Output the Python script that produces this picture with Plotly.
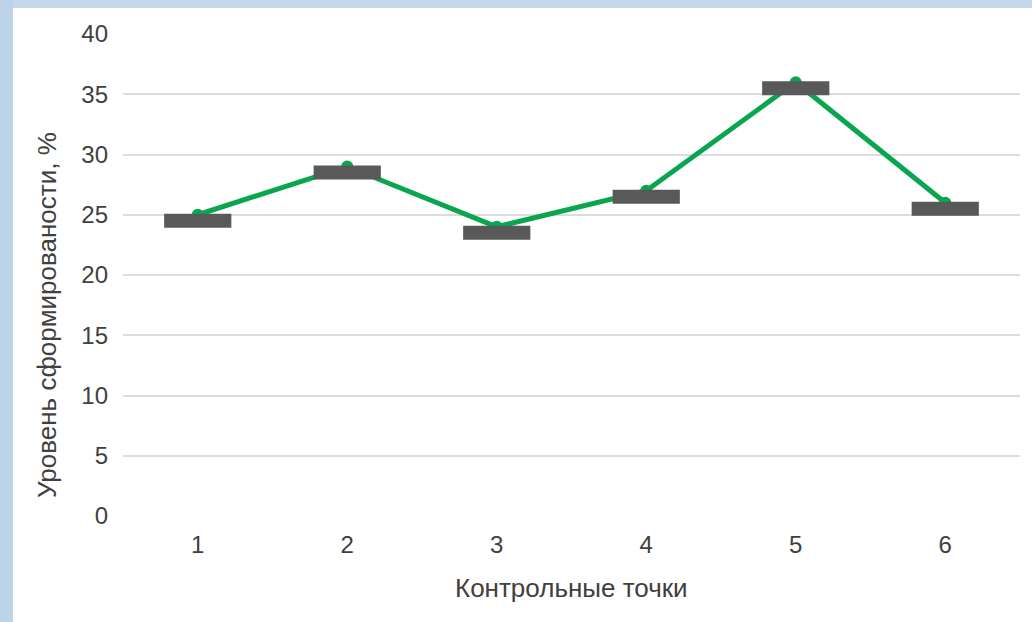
import plotly.graph_objects as go

categories = ["1", "2", "3", "4", "5", "6"]
level_values = [25, 29, 24, 27, 36, 26]
bar_values = [24.5, 28.5, 23.5, 26.5, 35.5, 25.5]
y_ticks = [0, 5, 10, 15, 20, 25, 30, 35, 40]

W, H = 1032, 622
L, R, T, B = 123, 12, 34, 106
pw, ph = W - L - R, H - T - B

def px_x(p):
    return (p - L) / pw

def px_y(p):
    return (H - B - p) / ph

font = "Liberation Sans, Arial, sans-serif"
txt = "#404040"

fig = go.Figure()
fig.add_trace(go.Scatter(
    x=categories, y=level_values, mode="lines+markers",
    line=dict(color="#0aa64f", width=5),
    marker=dict(color="#0aa64f", size=12),
    showlegend=False,
))
fig.add_trace(go.Scatter(
    x=categories, y=bar_values, mode="markers",
    marker=dict(symbol="line-ew", size=48, color="#595959",
                line=dict(color="#595959", width=14)),
    showlegend=False,
))

fig.update_layout(
    width=W, height=H, autosize=False,
    margin=dict(l=L, r=R, t=T, b=B),
    paper_bgcolor="white", plot_bgcolor="white",
    font=dict(family=font, color=txt, size=24),
    xaxis=dict(type="category", range=[-0.5, 5.5], showgrid=False,
               zeroline=False, showline=False, ticks="",
               tickfont=dict(size=24, color=txt), ticklabelstandoff=12),
    yaxis=dict(range=[0, 40], tickvals=y_ticks, showgrid=True,
               gridcolor="#dcdcdc", gridwidth=1.5, zeroline=False,
               showline=False, ticks="",
               tickfont=dict(size=24, color=txt), ticklabelstandoff=14),
    shapes=[
        dict(type="rect", xref="paper", yref="paper",
             x0=px_x(0), x1=px_x(W), y0=px_y(8), y1=px_y(0),
             fillcolor="#c3d8ed", line=dict(width=0), layer="above"),
        dict(type="rect", xref="paper", yref="paper",
             x0=px_x(0), x1=px_x(13), y0=px_y(H), y1=px_y(0),
             fillcolor="#bcd3ea", line=dict(width=0), layer="above"),
    ],
    annotations=[
        dict(text="Контрольные точки", xref="paper", yref="paper",
             x=px_x(571.5), y=px_y(588), xanchor="center", yanchor="middle",
             showarrow=False, font=dict(size=26, color=txt, family=font)),
        dict(text="Уровень сформированости, %", xref="paper", yref="paper",
             x=px_x(47), y=px_y(315), xanchor="center", yanchor="middle",
             textangle=-90, showarrow=False,
             font=dict(size=26, color=txt, family=font)),
    ],
)

fig.write_html("out.html", config={"displayModeBar": False},
               post_script="document.body.style.margin='0';document.body.style.padding='0';")
